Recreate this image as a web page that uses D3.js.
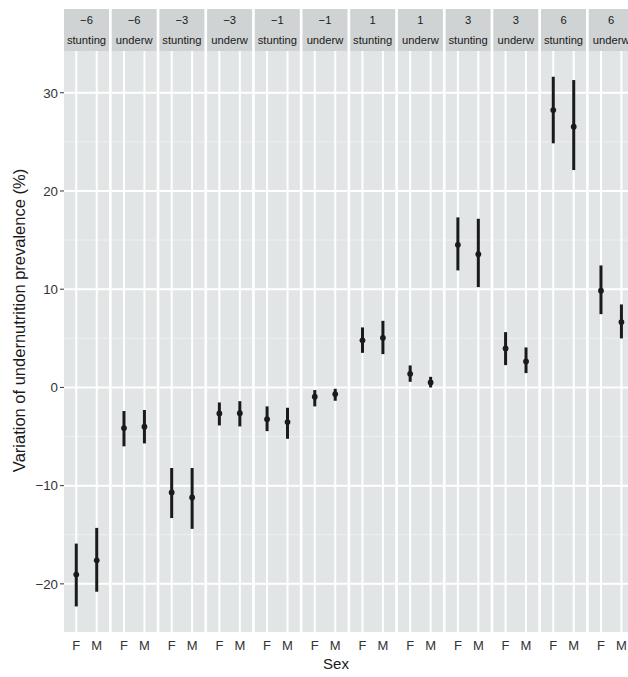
<!DOCTYPE html>
<html>
<head>
<meta charset="utf-8">
<script src="https://cdn.jsdelivr.net/npm/d3@7"></script>
<style>
  html, body { margin: 0; padding: 0; background: #fff; }
  svg { display: block; font-family: "Liberation Sans", Arial, Helvetica, sans-serif; }
</style>
</head>
<body>
<svg id="chart" width="628" height="677"></svg>
<script>
// Facets: time shift (months) x indicator
const shifts = [-6, -6, -3, -3, -1, -1, 1, 1, 3, 3, 6, 6];
const indicators = ["stunting", "underw", "stunting", "underw", "stunting", "underw",
                    "stunting", "underw", "stunting", "underw", "stunting", "underw"];
const sexes = ["F", "M"];

// Estimated variation (%) and interval bounds, per facet
const estF  = [-19.05, -4.14, -10.7, -2.65, -3.23, -0.95, 4.79, 1.38, 14.52, 3.97, 28.24, 9.84];
const lowF  = [-22.3, -6.0, -13.3, -3.87, -4.45, -1.93, 3.52, 0.57, 11.91, 2.27, 24.85, 7.46];
const highF = [-15.9, -2.4, -8.2, -1.53, -1.93, -0.27, 6.11, 2.24, 17.31, 5.63, 31.63, 12.42];
const estM  = [-17.6, -4.0, -11.2, -2.62, -3.53, -0.68, 5.05, 0.51, 13.57, 2.65, 26.54, 6.65];
const lowM  = [-20.8, -5.7, -14.4, -3.97, -5.23, -1.36, 3.39, 0.0, 10.21, 1.46, 22.13, 4.99];
const highM = [-14.3, -2.3, -8.2, -1.4, -2.07, -0.14, 6.78, 1.08, 17.17, 4.07, 31.29, 8.45];

const yMajor = [-20, -10, 0, 10, 20, 30];
const yMinor = [-15, -5, 5, 15, 25];

const rows = [];
shifts.forEach((s, i) => {
  rows.push({ facet: i, sex: "F", est: estF[i], lo: lowF[i], hi: highF[i] });
  rows.push({ facet: i, sex: "M", est: estM[i], lo: lowM[i], hi: highM[i] });
});

const svg = d3.select("#chart");
const panelTop = 51, panelBottom = 632, stripTop = 9;
const left = 64, pitch = 47.7, gap = 2.7;

const fx = d3.scaleBand()
  .domain(d3.range(shifts.length))
  .range([left, left + pitch * shifts.length - gap])
  .paddingInner(gap / pitch)
  .paddingOuter(0);

const x = d3.scalePoint().domain(sexes).range([0, fx.bandwidth()]).padding(0.6);

const y = d3.scaleLinear().domain([-24.9, 34.25]).range([panelBottom, panelTop]);

const fmt = v => (v < 0 ? "\u2212" + Math.abs(v) : String(v));

const panels = svg.selectAll("g.panel")
  .data(d3.range(shifts.length))
  .join("g")
  .attr("class", "panel")
  .attr("transform", i => `translate(${fx(i)},0)`);

// strip
panels.append("rect")
  .attr("x", 0).attr("y", stripTop)
  .attr("width", fx.bandwidth()).attr("height", panelTop - stripTop)
  .attr("fill", "#cfd3d3");
panels.append("text")
  .attr("x", fx.bandwidth() / 2).attr("y", 23.5)
  .attr("text-anchor", "middle").attr("font-size", 11.2).attr("fill", "#1a1a1a")
  .text(i => fmt(shifts[i]));
panels.append("text")
  .attr("x", fx.bandwidth() / 2).attr("y", 44.3)
  .attr("text-anchor", "middle").attr("font-size", 11.2).attr("fill", "#1a1a1a")
  .text(i => indicators[i]);

// panel background
panels.append("rect")
  .attr("x", 0).attr("y", panelTop)
  .attr("width", fx.bandwidth()).attr("height", panelBottom - panelTop)
  .attr("fill", "#e1e5e5");

// minor gridlines
panels.selectAll("line.minor").data(yMinor).join("line")
  .attr("class", "minor")
  .attr("x1", 0).attr("x2", fx.bandwidth())
  .attr("y1", d => y(d)).attr("y2", d => y(d))
  .attr("stroke", "#eef0f0").attr("stroke-width", 1);

// major gridlines
panels.selectAll("line.major").data(yMajor).join("line")
  .attr("class", "major")
  .attr("x1", 0).attr("x2", fx.bandwidth())
  .attr("y1", d => y(d)).attr("y2", d => y(d))
  .attr("stroke", "#ffffff").attr("stroke-width", 2);

panels.selectAll("line.vgrid").data(sexes).join("line")
  .attr("class", "vgrid")
  .attr("x1", d => x(d)).attr("x2", d => x(d))
  .attr("y1", panelTop).attr("y2", panelBottom)
  .attr("stroke", "#ffffff").attr("stroke-width", 2);

// interval bars and point estimates
panels.each(function (i) {
  const g = d3.select(this);
  const d = rows.filter(r => r.facet === i);
  g.selectAll("line.bar").data(d).join("line")
    .attr("class", "bar")
    .attr("x1", r => x(r.sex)).attr("x2", r => x(r.sex))
    .attr("y1", r => y(r.lo)).attr("y2", r => y(r.hi))
    .attr("stroke", "#1a1a1a").attr("stroke-width", 3);
  g.selectAll("circle").data(d).join("circle")
    .attr("cx", r => x(r.sex)).attr("cy", r => y(r.est))
    .attr("r", 2.9).attr("fill", "#1a1a1a");
  // x tick labels
  g.selectAll("text.xlab").data(sexes).join("text")
    .attr("class", "xlab")
    .attr("x", s => x(s)).attr("y", 650)
    .attr("text-anchor", "middle").attr("font-size", 13).attr("fill", "#333")
    .text(s => s);
});

// y axis
const yAxis = svg.append("g");
yMajor.forEach(v => {
  yAxis.append("line")
    .attr("x1", left - 4).attr("x2", left)
    .attr("y1", y(v)).attr("y2", y(v))
    .attr("stroke", "#333").attr("stroke-width", 1);
  yAxis.append("text")
    .attr("x", left - 6).attr("y", y(v))
    .attr("dy", "0.36em")
    .attr("text-anchor", "end").attr("font-size", 13.3).attr("fill", "#333")
    .text(fmt(v));
});

// axis titles
svg.append("text")
  .attr("transform", `translate(25,${(stripTop + panelBottom) / 2}) rotate(-90)`)
  .attr("text-anchor", "middle").attr("font-size", 16.5).attr("fill", "#1a1a1a")
  .text("Variation of undernutrition prevalence (%)");

svg.append("text")
  .attr("x", 336).attr("y", 669)
  .attr("text-anchor", "middle").attr("font-size", 15).attr("fill", "#1a1a1a")
  .text("Sex");
</script>
</body>
</html>
